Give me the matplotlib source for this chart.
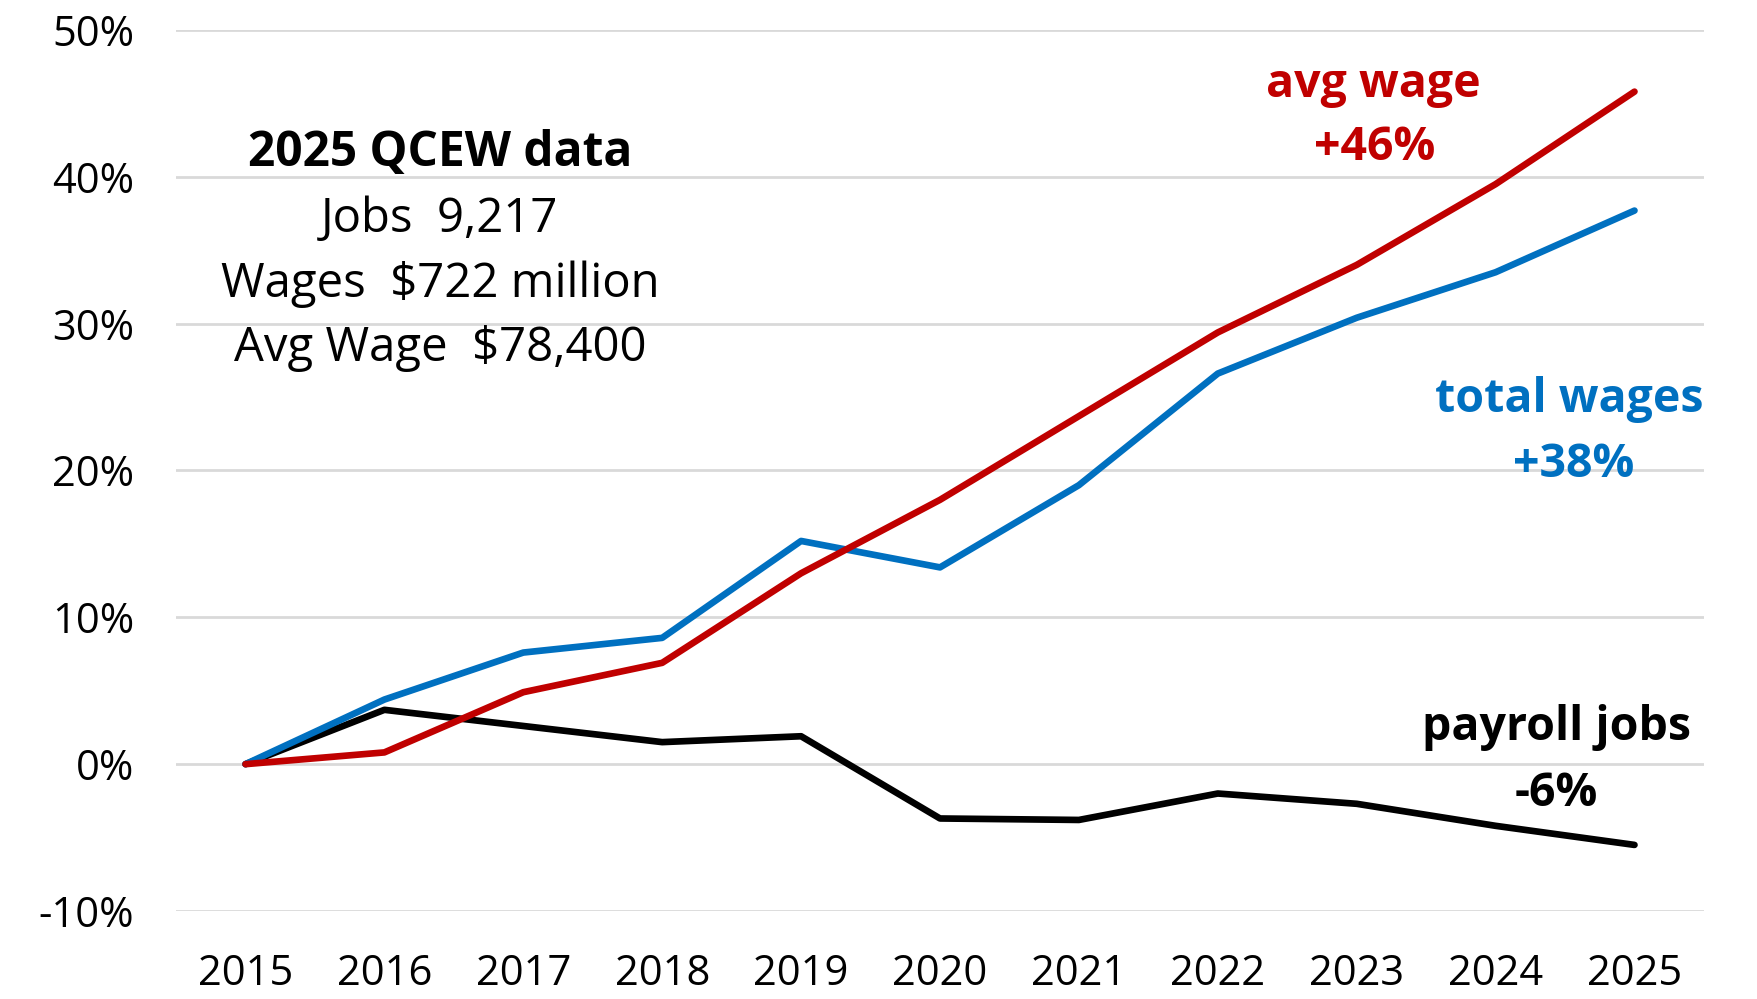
import matplotlib.pyplot as plt

## plt config
plt.rcParams['font.family'] = ['Open Sans', 'DejaVu Sans']

## data
years = ['2015', '2016', '2017', '2018', '2019', '2020', '2021', '2022', '2023', '2024', '2025']
avg_wage = [0.0, 0.8, 4.9, 6.9, 13.0, 18.0, 23.7, 29.4, 34.0, 39.5, 45.8]
total_wages = [0.0, 4.4, 7.6, 8.6, 15.2, 13.4, 19.0, 26.6, 30.4, 33.5, 37.7]
payroll_jobs = [0.0, 3.7, 2.6, 1.5, 1.9, -3.7, -3.8, -2.0, -2.7, -4.2, -5.5]
y_ticks = [-10, 0, 10, 20, 30, 40, 50]
info_lines = ['Jobs  9,217', 'Wages  $722 million', 'Avg Wage  $78,400']

red = '#C00000'
blue = '#0070C0'

## visualization
fig = plt.figure(figsize=(17.57, 9.99), dpi=100)
ax = fig.add_axes([0.1002, 0.0881, 0.8696, 0.8819])

x = range(len(years))
ax.plot(x, payroll_jobs, color='black', lw=4.8, solid_capstyle='round', zorder=3)
ax.plot(x, total_wages, color=blue, lw=4.8, solid_capstyle='round', zorder=4)
ax.plot(x, avg_wage, color=red, lw=4.8, solid_capstyle='round', zorder=5)

ax.set_xlim(-0.5, 10.5)
ax.set_ylim(-10, 50)
ax.set_xticks(list(x))
ax.set_xticklabels(years)
ax.set_yticks(y_ticks)
ax.set_yticklabels([f'{t}%' for t in y_ticks])
ax.tick_params(axis='both', length=0, labelsize=30)
ax.tick_params(axis='y', pad=30)
ax.tick_params(axis='x', pad=30)
ax.grid(axis='y', color='#D9D9D9', lw=2, zorder=0)
for s in ax.spines.values():
    s.set_visible(False)

## line labels
lab = dict(fontsize=33.5, fontweight='bold', va='center')
ax.text(8.12, 46.3, 'avg wage', color=red, ha='center', **lab)
ax.text(8.13, 42.0, '+46%', color=red, ha='center', **lab)
ax.text(10.5, 24.8, 'total wages', color=blue, ha='right', **lab)
ax.text(9.56, 20.4, '+38%', color=blue, ha='center', **lab)
ax.text(10.41, 2.5, 'payroll jobs', color='black', ha='right', **lab)
ax.text(9.44, -2.0, '-6%', color='black', ha='center', **lab)

## info block
ax.text(1.40, 41.6, '2025 QCEW data', ha='center', va='center', fontsize=34.5, fontweight='bold')
for i, line in enumerate(info_lines):
    ax.text(1.40, 37.1 - 4.4 * i, line, ha='center', va='center', fontsize=34)

plt.savefig('out.png', dpi=100)
